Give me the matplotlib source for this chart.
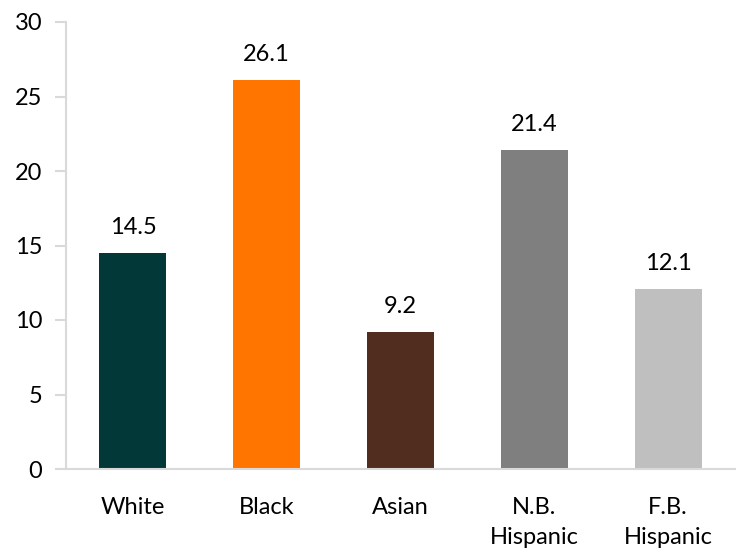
import matplotlib
matplotlib.use("Agg")
import matplotlib.pyplot as plt

categories = ["White", "Black", "Asian", "N.B.\nHispanic", "F.B.\nHispanic"]
values = [14.5, 26.1, 9.2, 21.4, 12.1]
colors = ["#023838", "#FF7500", "#512D20", "#7F7F7F", "#BFBFBF"]
yticks = [0, 5, 10, 15, 20, 25, 30]

plt.rcParams['font.family'] = ['Lato', 'DejaVu Sans']

fig = plt.figure(figsize=(7.47, 5.48), dpi=100)
ax = fig.add_axes([66/747, 1-469/548, (735-66)/747, (469-22)/548])

x = list(range(len(categories)))
bars = ax.bar(x, values, width=0.5, color=colors, zorder=2)
for xi, v in zip(x, values):
    ax.text(xi, v + 1.0, f"{v:.1f}", ha="center", va="bottom", fontsize=17, color="black")

ax.set_xlim(-0.5, len(categories) - 0.5)
ax.set_ylim(0, 30)
ax.set_yticks(yticks)
ax.set_yticklabels([str(t) for t in yticks], fontsize=17)
ax.set_xticks(x)
ax.set_xticklabels(categories, fontsize=17, linespacing=1.55, va="top")

for s in ["top", "right"]:
    ax.spines[s].set_visible(False)
ax.spines["left"].set_color("#D9D9D9")
ax.spines["bottom"].set_color("#D9D9D9")
ax.spines["left"].set_linewidth(1.5)
ax.spines["bottom"].set_linewidth(1.5)
ax.tick_params(axis="y", length=8, width=1.5, color="#D9D9D9", pad=9)
ax.tick_params(axis="x", length=0, pad=20)

fig.savefig("out.png", dpi=100)
